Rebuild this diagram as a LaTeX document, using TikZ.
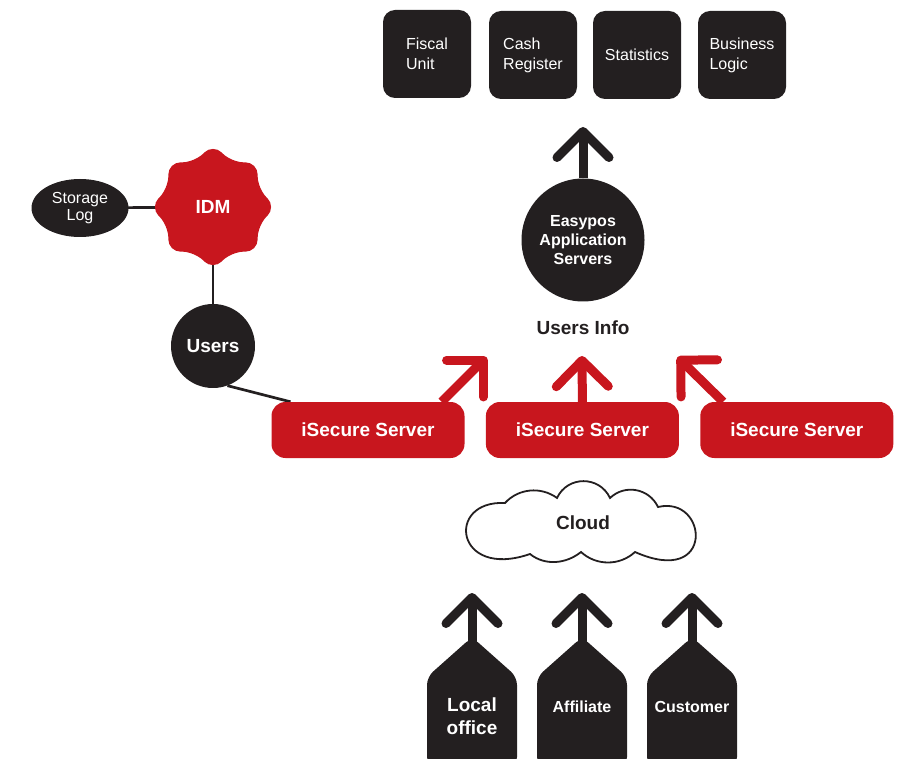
\documentclass[tikz,border=0pt]{standalone}
\usepackage{fontspec}
\setmainfont{Liberation Sans}
\usepackage{tikz}
\usetikzlibrary{arrows.meta,shapes.geometric,positioning,calc,backgrounds}
\definecolor{ink}{RGB}{35,31,32}
\definecolor{brandred}{RGB}{200,22,30}
\tikzset{
	every node/.style={
		font=\fontsize{16}{20}\selectfont,
		text=white
	},
	module/.style={
		shape=rectangle,
		minimum width=88pt,
		minimum height=88pt,
		rounded corners=12pt,
		fill=ink,
		align=left
	},
	server/.style={
		shape=rectangle,
		minimum width=193pt,
		minimum height=56pt,
		rounded corners=14pt,
		fill=brandred,
		font=\fontsize{19}{23}\selectfont\bfseries
	},
	hub/.style={
		shape=circle,
		fill=ink,
		inner sep=0pt,
		align=center,
		font=\fontsize{16}{19}\selectfont\bfseries
	},
	idmstar/.style={
		shape=star,
		star points=8,
		star point ratio=1.3,
		minimum size=126pt,
		inner sep=0pt,
		rounded corners=12pt,
		fill=brandred,
		font=\fontsize{19}{23}\selectfont\bfseries
	},
	store/.style={
		shape=ellipse,
		fill=ink,
		inner sep=0pt,
		minimum width=97pt,
		minimum height=58pt,
		align=center,
		font=\fontsize{16}{17}\selectfont
	},
	infotext/.style={
		text=ink,
		font=\fontsize{19}{23}\selectfont\bfseries
	},
	cloudline/.style={
		draw=ink,
		line width=1.8pt,
		fill=white
	},
	tag/.style={
		fill=ink,
		rounded corners=8pt
	},
	link/.style={draw=ink, line width=2.7pt},
	flow/.style={line width=9pt, -{Straight Barb[length=26pt,width=52pt,round]}}
}

\begin{document}
\begin{tikzpicture}[x=1pt,y=-1pt]
\useasboundingbox (0,0) rectangle (900,759);

% modules on top
\node [module] (fiscal) at (427,54) {Fiscal\\Unit};
\node [module] (cash) at (533,55) {Cash\\Register};
\node [module] (stats) at (637,55) {Statistics};
\node [module] (logic) at (742,55) {Business\\Logic};

% application servers
\node [hub, minimum size=123pt] (apps) at (583,240) {Easypos\\Application\\Servers};
\coordinate (apps tip) at (583,127);
\draw [flow, draw=ink] (apps) -- (apps tip);
\node [infotext] (info) at (583,328) {Users Info};

% iSecure servers
\node [server] (srv1) at (368,430) {iSecure Server};
\node [server, right=21pt of srv1] (srv2) {iSecure Server};
\node [server, right=21pt of srv2] (srv3) {iSecure Server};
\coordinate (tip1) at (486.5,357);
\coordinate (tip2) at (582,356);
\coordinate (tip3) at (677.5,357);
\draw [flow, draw=brandred] ($(srv1.north east)+(-23,0)$) -- (tip1);
\draw [flow, draw=brandred] (srv2.north) -- (tip2);
\draw [flow, draw=brandred] ($(srv3.north west)+(23,0)$) -- (tip3);

% identity side
\node [hub, minimum size=84pt, font=\fontsize{19}{23}\selectfont\bfseries] (users) at (213,346) {Users};
\node [idmstar] (idm) at (213,207) {IDM};
\node [store] (storage) at (80,208) {Storage\\Log};
\begin{scope}[on background layer]
	\draw [link] (storage.center) -- (idm.center);
	\draw [link] (idm.center) -- (users.center);
	\draw [link] (users.-70) -- (srv1.160);
\end{scope}

% cloud
\draw [cloudline] (505,503) .. controls (518.4,488.3) and (541,486.2) .. (557,498)
	.. controls (567.5,475.5) and (599.5,475.5) .. (610,498)
	.. controls (625,483.8) and (649.2,488.4) .. (658,507)
	.. controls (708,495) and (716,588) .. (635,552)
	.. controls (619.7,566) and (596.3,566) .. (581,552)
	.. controls (566.1,564) and (544.9,566) .. (530,554)
	.. controls (455,580) and (445,500) .. cycle;
\node [infotext] (cloud) at (583,523) {Cloud};

% clients
\fill [tag] (427,765) -- (427,677) -- (472,637) -- (517,677) -- (517,765) -- cycle;
\fill [tag] (537,765) -- (537,677) -- (582,637) -- (627,677) -- (627,765) -- cycle;
\fill [tag] (647,765) -- (647,677) -- (692,637) -- (737,677) -- (737,765) -- cycle;
\coordinate (office top) at (472,645);
\coordinate (affiliate top) at (582,645);
\coordinate (customer top) at (692,645);
\coordinate (office tip) at (472,593);
\coordinate (affiliate tip) at (582,593);
\coordinate (customer tip) at (692,593);
\draw [flow, draw=ink] (office top) -- (office tip);
\draw [flow, draw=ink] (affiliate top) -- (affiliate tip);
\draw [flow, draw=ink] (customer top) -- (customer tip);
\node [align=center, font=\fontsize{19}{23}\selectfont\bfseries] (office) at (472,716) {Local\\office};
\node [font=\fontsize{16}{20}\selectfont\bfseries] (affiliate) at (582,707) {Affiliate};
\node [font=\fontsize{16}{20}\selectfont\bfseries] (customer) at (692,707) {Customer};

\end{tikzpicture}
\end{document}
